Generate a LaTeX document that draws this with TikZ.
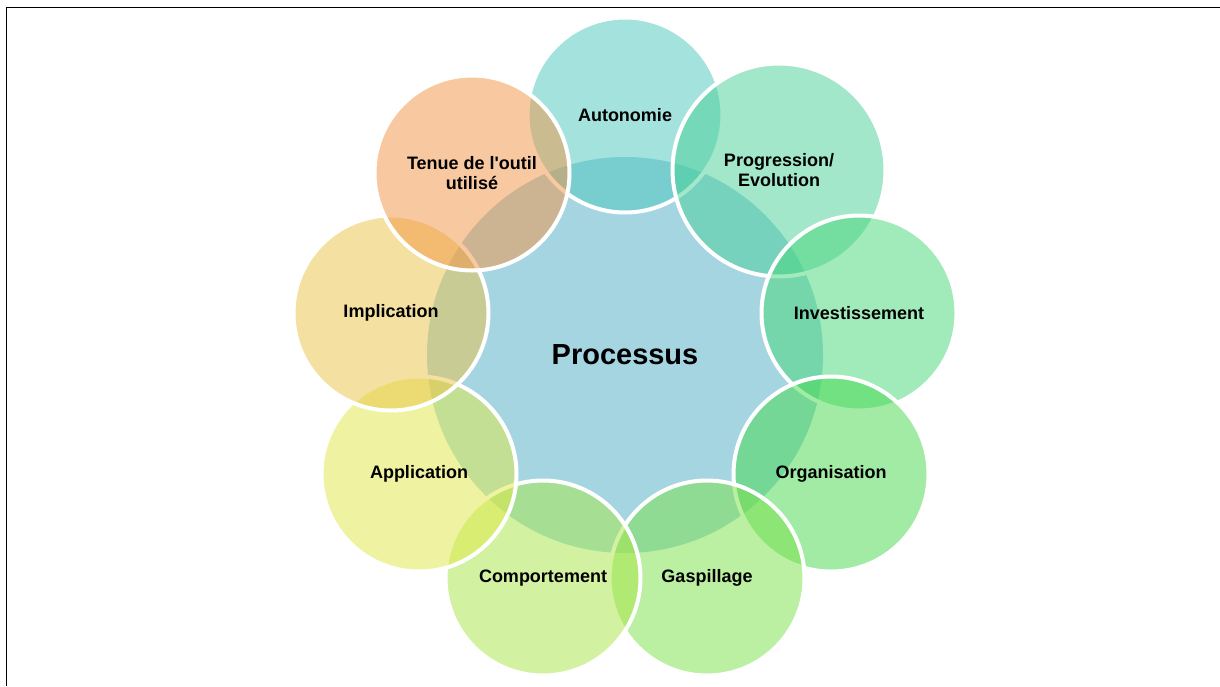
\documentclass[tikz,border=0pt]{standalone}
\usepackage{fontspec}
\setmainfont{Liberation Sans}
\definecolor{cproc}{RGB}{166,213,226}
\definecolor{cauto}{RGB}{75,199,189}
\definecolor{cprog}{RGB}{71,209,151}
\definecolor{cinv}{RGB}{69,215,119}
\definecolor{corg}{RGB}{69,217,75}
\definecolor{cgasp}{RGB}{121,225,69}
\definecolor{ccomp}{RGB}{167,231,69}
\definecolor{cappl}{RGB}{225,233,69}
\definecolor{cimpl}{RGB}{235,195,69}
\definecolor{ctenue}{RGB}{243,149,69}
\begin{document}
\begin{tikzpicture}[x=1pt,y=-1pt,
  outer/.style={circle, draw=white, line width=4pt, fill opacity=0.5, text opacity=1,
    minimum size=195pt, inner sep=0pt, align=center,
    font=\bfseries\fontsize{18}{20}\selectfont},
  hub/.style={circle, fill=cproc, minimum size=396pt, inner sep=0pt,
    font=\bfseries\fontsize{29}{32}\selectfont}]
\useasboundingbox (0,0) rectangle (1220,686);
\fill[white] (0,0) rectangle (1220,686);
\coordinate (fa) at (6.5,686);
\coordinate (fb) at (6.5,7.5);
\coordinate (fc) at (1220,7.5);
\draw[line width=1.4pt] (fa) -- (fb) -- (fc);
\node[hub] (proc) at (625,355) {Processus};
\node[outer, fill=cauto] (auto) at (625,115) {Autonomie};
\node[outer, fill=cprog, minimum size=213pt] (prog) at (779,170) {Progression/\\Evolution};
\node[outer, fill=cinv] (inv) at (859,313) {Investissement};
\node[outer, fill=corg] (org) at (831,474) {Organisation};
\node[outer, fill=cgasp] (gasp) at (707,578) {Gaspillage};
\node[outer, fill=ccomp] (comp) at (543,578) {Comportement};
\node[outer, fill=cappl] (appl) at (419,474) {Application};
\node[outer, fill=cimpl] (impl) at (391,313) {Implication};
\node[outer, fill=ctenue] (tenue) at (472,173) {Tenue de l\textquotesingle outil\\utilisé};
\end{tikzpicture}
\end{document}
